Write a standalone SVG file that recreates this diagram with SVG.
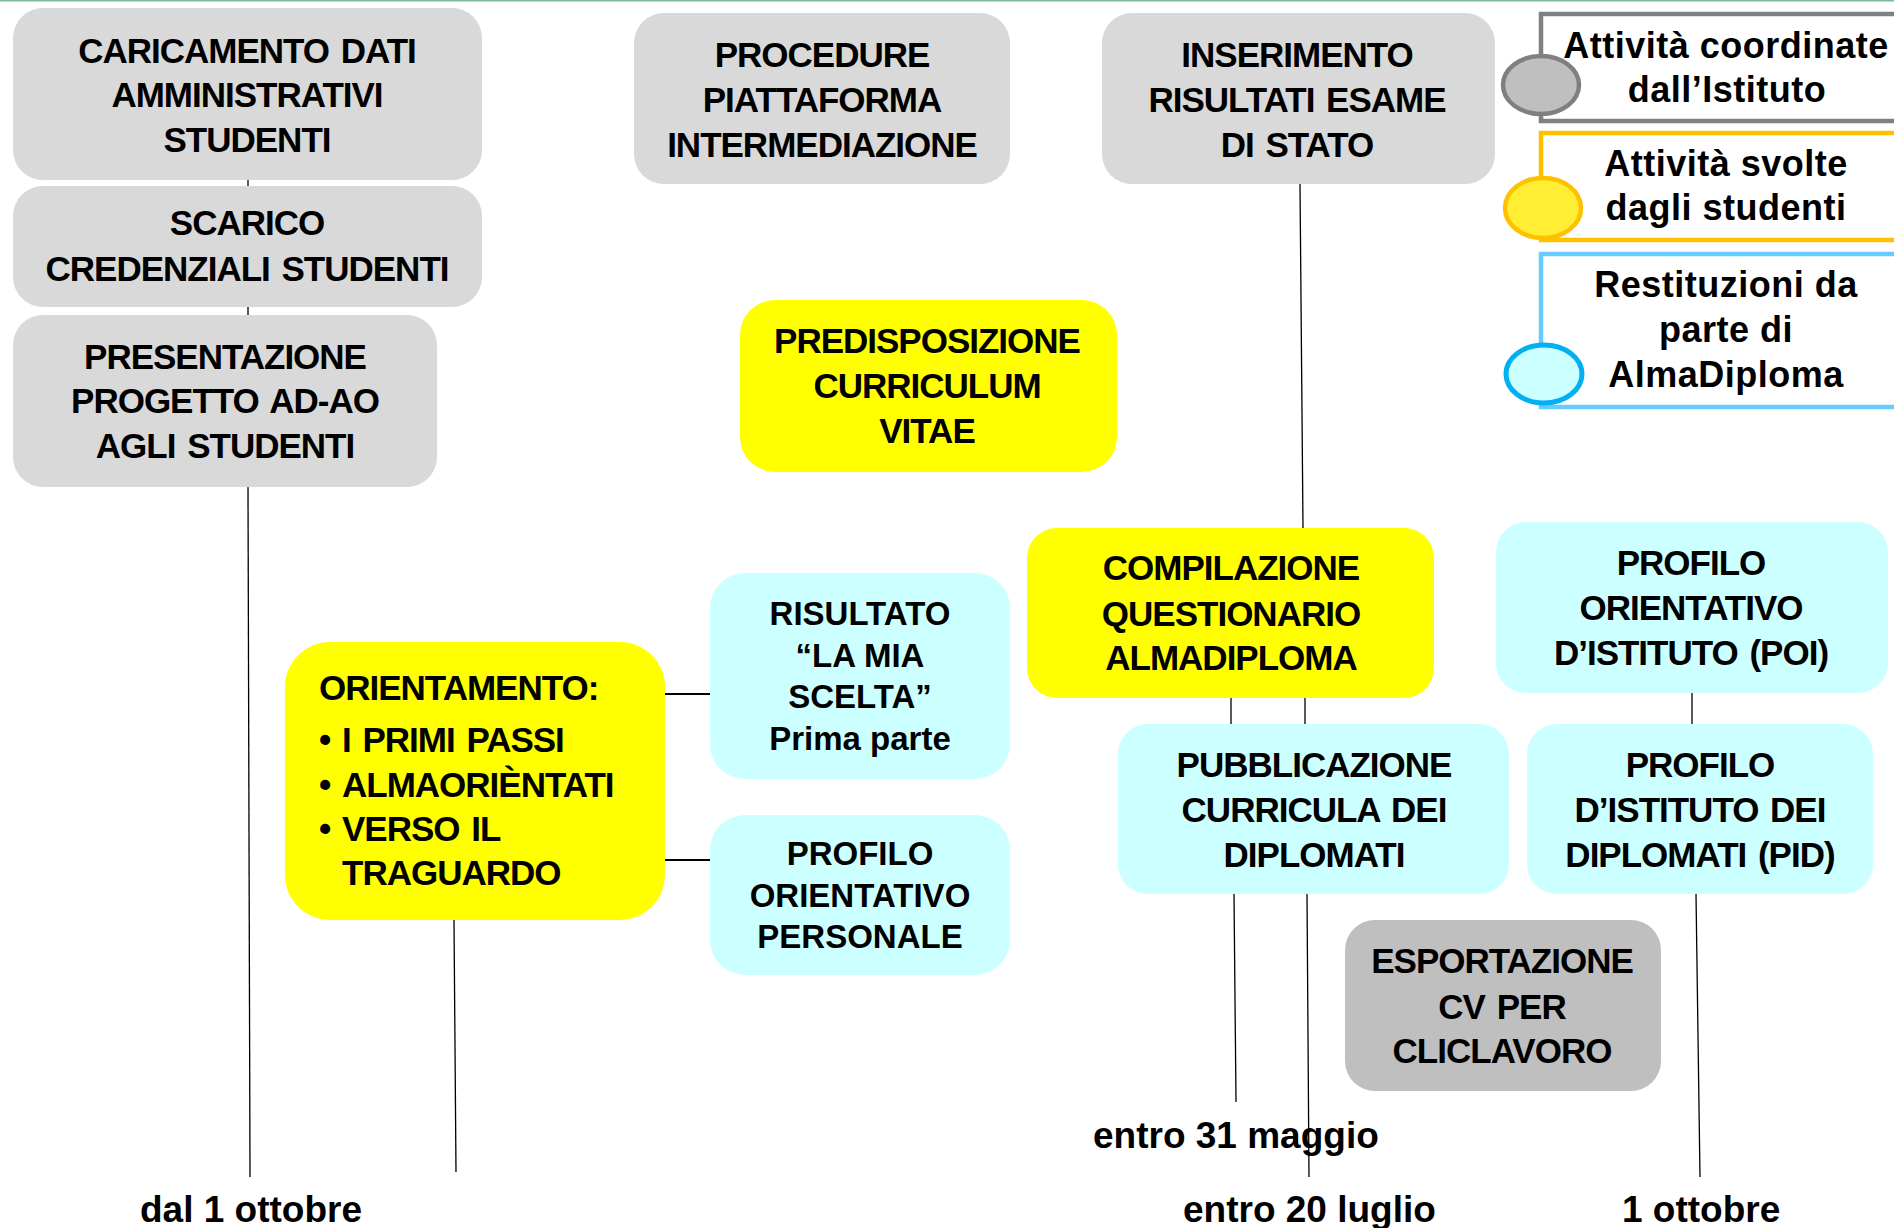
<svg xmlns="http://www.w3.org/2000/svg" width="1894" height="1228" viewBox="0 0 1894 1228">
<style>
.t{font-family:"Liberation Sans",Arial,sans-serif;font-weight:bold;font-size:35px;letter-spacing:-1px;word-spacing:3px;text-anchor:middle;fill:#000}
.h{font-family:"Liberation Sans",Arial,sans-serif;font-weight:bold;font-size:33px;text-anchor:middle;fill:#000}
.o{font-family:"Liberation Sans",Arial,sans-serif;font-weight:bold;font-size:35px;letter-spacing:-1px;word-spacing:3px;fill:#000}
.l{font-family:"Liberation Sans",Arial,sans-serif;font-weight:bold;font-size:36px;letter-spacing:0.5px;text-anchor:middle;fill:#000}
.d{font-family:"Liberation Sans",Arial,sans-serif;font-weight:bold;font-size:37px;fill:#000}
.gray{fill:#d9d9d9}
.dgray{fill:#bfbfbf}
.yel{fill:#ffff00}
.cyan{fill:#ccffff}
.c{stroke:#000;stroke-width:1.3;fill:none}
.c2{stroke:#000;stroke-width:2;fill:none}
</style>
<rect x="0" y="0" width="1894" height="1228" fill="#fff"/>
<line x1="0" y1="0.8" x2="1894" y2="0.8" stroke="#80b898" stroke-width="1.6"/>

<g id="connectors">
<line class="c" x1="248" y1="180" x2="248" y2="186"/>
<line class="c" x1="248" y1="307" x2="248" y2="315"/>
<line class="c" x1="248" y1="487" x2="250" y2="1177"/>
<line class="c" x1="1300" y1="184" x2="1303" y2="528"/>
<line class="c2" x1="665" y1="694" x2="710" y2="694"/>
<line class="c2" x1="665" y1="860" x2="710" y2="860"/>
<line class="c" x1="454" y1="920" x2="456" y2="1172"/>
<line class="c" x1="1231" y1="698" x2="1231" y2="724"/>
<line class="c" x1="1305" y1="698" x2="1305" y2="724"/>
<line class="c" x1="1234" y1="894" x2="1236" y2="1102"/>
<line class="c" x1="1307" y1="894" x2="1309" y2="1177"/>
<line class="c" x1="1692" y1="693" x2="1692" y2="724"/>
<line class="c" x1="1696" y1="894" x2="1700" y2="1177"/>
</g>

<g id="n-caricamento">
<rect class="gray" x="13" y="8" width="469" height="172" rx="30"/>
<text class="t" x="247" y="63">CARICAMENTO DATI</text>
<text class="t" x="247" y="107">AMMINISTRATIVI</text>
<text class="t" x="247" y="152">STUDENTI</text>
</g>
<g id="n-scarico">
<rect class="gray" x="13" y="186" width="469" height="121" rx="30"/>
<text class="t" x="247" y="235">SCARICO</text>
<text class="t" x="247" y="281">CREDENZIALI STUDENTI</text>
</g>
<g id="n-presentazione">
<rect class="gray" x="13" y="315" width="424" height="172" rx="30"/>
<text class="t" x="225" y="369">PRESENTAZIONE</text>
<text class="t" x="225" y="413">PROGETTO AD-AO</text>
<text class="t" x="225" y="458">AGLI STUDENTI</text>
</g>
<g id="n-procedure">
<rect class="gray" x="634" y="13" width="376" height="171" rx="30"/>
<text class="t" x="822" y="67">PROCEDURE</text>
<text class="t" x="822" y="112">PIATTAFORMA</text>
<text class="t" x="822" y="157">INTERMEDIAZIONE</text>
</g>
<g id="n-inserimento">
<rect class="gray" x="1102" y="13" width="393" height="171" rx="30"/>
<text class="t" x="1297" y="67">INSERIMENTO</text>
<text class="t" x="1297" y="112">RISULTATI ESAME</text>
<text class="t" x="1297" y="157">DI STATO</text>
</g>
<g id="n-predisposizione">
<rect class="yel" x="740" y="300" width="377" height="172" rx="35"/>
<text class="t" x="927" y="353">PREDISPOSIZIONE</text>
<text class="t" x="927" y="398">CURRICULUM</text>
<text class="t" x="927" y="443">VITAE</text>
</g>
<g id="n-orientamento">
<rect class="yel" x="285" y="642" width="380" height="278" rx="45"/>
<text class="o" x="319" y="700">ORIENTAMENTO:</text>
<text class="o" x="319" y="752">•</text><text class="o" x="342" y="752">I PRIMI PASSI</text>
<text class="o" x="319" y="797">•</text><text class="o" x="342" y="797">ALMAORIÈNTATI</text>
<text class="o" x="319" y="841">•</text><text class="o" x="342" y="841">VERSO IL</text>
<text class="o" x="342" y="885">TRAGUARDO</text>
</g>
<g id="n-risultato">
<rect class="cyan" x="710" y="573" width="300" height="206" rx="35"/>
<text class="h" x="860" y="625">RISULTATO</text>
<text class="h" x="860" y="667">“LA MIA</text>
<text class="h" x="860" y="708">SCELTA”</text>
<text class="h" x="860" y="750">Prima parte</text>
</g>
<g id="n-profilo-personale">
<rect class="cyan" x="710" y="815" width="300" height="160" rx="35"/>
<text class="h" x="860" y="865">PROFILO</text>
<text class="h" x="860" y="907">ORIENTATIVO</text>
<text class="h" x="860" y="948">PERSONALE</text>
</g>
<g id="n-compilazione">
<rect class="yel" x="1027" y="528" width="407" height="170" rx="30"/>
<text class="t" x="1231" y="580">COMPILAZIONE</text>
<text class="t" x="1231" y="626">QUESTIONARIO</text>
<text class="t" x="1231" y="670">ALMADIPLOMA</text>
</g>
<g id="n-poi">
<rect class="cyan" x="1496" y="522" width="392" height="171" rx="30"/>
<text class="t" x="1691" y="575">PROFILO</text>
<text class="t" x="1691" y="620">ORIENTATIVO</text>
<text class="t" x="1691" y="665">D’ISTITUTO (POI)</text>
</g>
<g id="n-pubblicazione">
<rect class="cyan" x="1118" y="724" width="391" height="170" rx="30"/>
<text class="t" x="1314" y="777">PUBBLICAZIONE</text>
<text class="t" x="1314" y="822">CURRICULA DEI</text>
<text class="t" x="1314" y="867">DIPLOMATI</text>
</g>
<g id="n-pid">
<rect class="cyan" x="1527" y="724" width="346" height="170" rx="30"/>
<text class="t" x="1700" y="777">PROFILO</text>
<text class="t" x="1700" y="822">D’ISTITUTO DEI</text>
<text class="t" x="1700" y="867">DIPLOMATI (PID)</text>
</g>
<g id="n-esportazione">
<rect class="dgray" x="1345" y="920" width="316" height="171" rx="30"/>
<text class="t" x="1502" y="973">ESPORTAZIONE</text>
<text class="t" x="1502" y="1019">CV PER</text>
<text class="t" x="1502" y="1063">CLICLAVORO</text>
</g>

<g id="legend-istituto">
<path d="M1900 14 H1541 V121 H1900" fill="#fff" stroke="#808080" stroke-width="4.5"/>
<ellipse cx="1541" cy="85" rx="38" ry="29" fill="#bfbfbf" stroke="#808080" stroke-width="4.5"/>
<text class="l" x="1726" y="58">Attività coordinate</text>
<text class="l" x="1727" y="102">dall’Istituto</text>
</g>
<g id="legend-studenti">
<path d="M1900 133 H1541 V240 H1900" fill="#fff" stroke="#ffc000" stroke-width="4.5"/>
<ellipse cx="1543" cy="208" rx="38" ry="30" fill="#ffee33" stroke="#ffc000" stroke-width="4.5"/>
<text class="l" x="1726" y="176">Attività svolte</text>
<text class="l" x="1726" y="220">dagli studenti</text>
</g>
<g id="legend-almadiploma">
<path d="M1900 254 H1541 V407 H1900" fill="#fff" stroke="#66ccff" stroke-width="4.5"/>
<ellipse cx="1544" cy="374" rx="38" ry="29" fill="#ccffff" stroke="#00b0f0" stroke-width="5"/>
<text class="l" x="1726" y="297">Restituzioni da</text>
<text class="l" x="1726" y="342">parte di</text>
<text class="l" x="1726" y="387">AlmaDiploma</text>
</g>

<g id="dates">
<text class="d" x="140" y="1222">dal 1 ottobre</text>
<text class="d" x="1093" y="1148">entro 31 maggio</text>
<text class="d" x="1183" y="1222">entro 20 luglio</text>
<text class="d" x="1622" y="1222">1 ottobre</text>
</g>
</svg>
